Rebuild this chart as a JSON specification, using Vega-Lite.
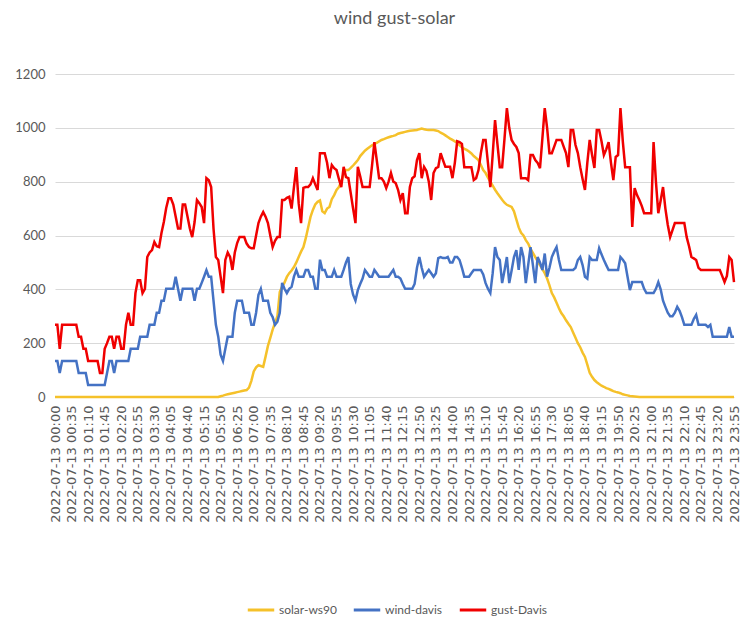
{
"$schema": "https://vega.github.io/schema/vega-lite/v6.json",
"width": 679, "height": 323,
"autosize": {"type": "none"},
"padding": {"left": 55, "top": 74, "right": 8, "bottom": 242},
"background": "white",
"title": {"text": "wind gust-solar", "font": "Lato", "fontSize": 18, "fontWeight": "normal", "color": "#595959", "offset": 40, "anchor": "middle"},
"data": {"values": [
{"t":"00:00","s":0,"w":134,"g":268},{"t":"00:05","s":0,"w":134,"g":268},{"t":"00:10","s":0,"w":89,"g":179},{"t":"00:15","s":0,"w":134,"g":268},{"t":"00:20","s":0,"w":134,"g":268},{"t":"00:25","s":0,"w":134,"g":268},{"t":"00:30","s":0,"w":134,"g":268},{"t":"00:35","s":0,"w":134,"g":268},{"t":"00:40","s":0,"w":134,"g":268},{"t":"00:45","s":0,"w":134,"g":268},{"t":"00:50","s":0,"w":89,"g":224},{"t":"00:55","s":0,"w":89,"g":224},
{"t":"01:00","s":0,"w":89,"g":179},{"t":"01:05","s":0,"w":89,"g":179},{"t":"01:10","s":0,"w":45,"g":134},{"t":"01:15","s":0,"w":45,"g":134},{"t":"01:20","s":0,"w":45,"g":134},{"t":"01:25","s":0,"w":45,"g":134},{"t":"01:30","s":0,"w":45,"g":134},{"t":"01:35","s":0,"w":45,"g":89},{"t":"01:40","s":0,"w":45,"g":89},{"t":"01:45","s":0,"w":45,"g":179},{"t":"01:50","s":0,"w":89,"g":200},{"t":"01:55","s":0,"w":134,"g":224},
{"t":"02:00","s":0,"w":134,"g":224},{"t":"02:05","s":0,"w":89,"g":179},{"t":"02:10","s":0,"w":134,"g":224},{"t":"02:15","s":0,"w":134,"g":224},{"t":"02:20","s":0,"w":134,"g":179},{"t":"02:25","s":0,"w":134,"g":179},{"t":"02:30","s":0,"w":134,"g":268},{"t":"02:35","s":0,"w":134,"g":313},{"t":"02:40","s":0,"w":179,"g":268},{"t":"02:45","s":0,"w":179,"g":268},{"t":"02:50","s":0,"w":179,"g":386},{"t":"02:55","s":0,"w":179,"g":434},
{"t":"03:00","s":0,"w":224,"g":434},{"t":"03:05","s":0,"w":224,"g":386},{"t":"03:10","s":0,"w":224,"g":402},{"t":"03:15","s":0,"w":224,"g":520},{"t":"03:20","s":0,"w":268,"g":537},{"t":"03:25","s":0,"w":268,"g":546},{"t":"03:30","s":0,"w":268,"g":576},{"t":"03:35","s":0,"w":313,"g":560},{"t":"03:40","s":0,"w":313,"g":557},{"t":"03:45","s":0,"w":358,"g":609},{"t":"03:50","s":0,"w":358,"g":650},{"t":"03:55","s":0,"w":402,"g":702},
{"t":"04:00","s":0,"w":402,"g":738},{"t":"04:05","s":0,"w":402,"g":738},{"t":"04:10","s":0,"w":402,"g":715},{"t":"04:15","s":0,"w":447,"g":671},{"t":"04:20","s":0,"w":402,"g":626},{"t":"04:25","s":0,"w":358,"g":626},{"t":"04:30","s":0,"w":402,"g":715},{"t":"04:35","s":0,"w":402,"g":715},{"t":"04:40","s":0,"w":402,"g":671},{"t":"04:45","s":0,"w":402,"g":626},{"t":"04:50","s":0,"w":402,"g":594},{"t":"04:55","s":0,"w":358,"g":650},
{"t":"05:00","s":0,"w":402,"g":732},{"t":"05:05","s":0,"w":402,"g":720},{"t":"05:10","s":0,"w":424,"g":706},{"t":"05:15","s":0,"w":447,"g":646},{"t":"05:20","s":0,"w":471,"g":813},{"t":"05:25","s":0,"w":447,"g":805},{"t":"05:30","s":0,"w":447,"g":780},{"t":"05:35","s":0,"w":358,"g":626},{"t":"05:40","s":0,"w":268,"g":520},{"t":"05:45","s":0,"w":224,"g":509},{"t":"05:50","s":3,"w":157,"g":447},{"t":"05:55","s":5,"w":134,"g":386},
{"t":"06:00","s":8,"w":179,"g":509},{"t":"06:05","s":10,"w":224,"g":537},{"t":"06:10","s":12,"w":224,"g":520},{"t":"06:15","s":14,"w":224,"g":472},{"t":"06:20","s":16,"w":313,"g":537},{"t":"06:25","s":18,"w":358,"g":572},{"t":"06:30","s":20,"w":358,"g":594},{"t":"06:35","s":22,"w":358,"g":594},{"t":"06:40","s":24,"w":313,"g":594},{"t":"06:45","s":26,"w":313,"g":570},{"t":"06:50","s":35,"w":313,"g":557},{"t":"06:55","s":60,"w":268,"g":553},
{"t":"07:00","s":95,"w":268,"g":553},{"t":"07:05","s":110,"w":313,"g":600},{"t":"07:10","s":118,"w":380,"g":646},{"t":"07:15","s":115,"w":402,"g":670},{"t":"07:20","s":112,"w":358,"g":687},{"t":"07:25","s":150,"w":358,"g":670},{"t":"07:30","s":190,"w":358,"g":646},{"t":"07:35","s":220,"w":313,"g":600},{"t":"07:40","s":250,"w":297,"g":557},{"t":"07:45","s":275,"w":268,"g":580},{"t":"07:50","s":300,"w":280,"g":594},{"t":"07:55","s":390,"w":313,"g":594},
{"t":"08:00","s":410,"w":424,"g":732},{"t":"08:05","s":425,"w":402,"g":732},{"t":"08:10","s":446,"w":386,"g":740},{"t":"08:15","s":460,"w":402,"g":744},{"t":"08:20","s":470,"w":409,"g":700},{"t":"08:25","s":483,"w":447,"g":780},{"t":"08:30","s":500,"w":472,"g":854},{"t":"08:35","s":520,"w":447,"g":720},{"t":"08:40","s":540,"w":447,"g":646},{"t":"08:45","s":557,"w":447,"g":777},{"t":"08:50","s":590,"w":472,"g":780},{"t":"08:55","s":630,"w":472,"g":780},
{"t":"09:00","s":669,"w":447,"g":790},{"t":"09:05","s":695,"w":447,"g":813},{"t":"09:10","s":715,"w":402,"g":790},{"t":"09:15","s":725,"w":402,"g":769},{"t":"09:20","s":730,"w":510,"g":906},{"t":"09:25","s":690,"w":472,"g":906},{"t":"09:30","s":683,"w":472,"g":906},{"t":"09:35","s":700,"w":447,"g":870},{"t":"09:40","s":706,"w":447,"g":813},{"t":"09:45","s":735,"w":447,"g":862},{"t":"09:50","s":750,"w":472,"g":850},{"t":"09:55","s":769,"w":447,"g":843},
{"t":"10:00","s":780,"w":447,"g":810},{"t":"10:05","s":800,"w":447,"g":780},{"t":"10:10","s":830,"w":472,"g":855},{"t":"10:15","s":843,"w":500,"g":817},{"t":"10:20","s":843,"w":520,"g":813},{"t":"10:25","s":851,"w":420,"g":757},{"t":"10:30","s":860,"w":380,"g":700},{"t":"10:35","s":870,"w":358,"g":646},{"t":"10:40","s":880,"w":397,"g":855},{"t":"10:45","s":895,"w":420,"g":820},{"t":"10:50","s":905,"w":440,"g":780},{"t":"10:55","s":915,"w":472,"g":780},
{"t":"11:00","s":922,"w":460,"g":780},{"t":"11:05","s":929,"w":447,"g":780},{"t":"11:10","s":935,"w":447,"g":860},{"t":"11:15","s":940,"w":472,"g":947},{"t":"11:20","s":944,"w":460,"g":880},{"t":"11:25","s":950,"w":447,"g":813},{"t":"11:30","s":955,"w":447,"g":813},{"t":"11:35","s":958,"w":447,"g":800},{"t":"11:40","s":962,"w":447,"g":776},{"t":"11:45","s":965,"w":447,"g":800},{"t":"11:50","s":968,"w":460,"g":832},{"t":"11:55","s":970,"w":472,"g":800},
{"t":"12:00","s":973,"w":447,"g":795},{"t":"12:05","s":978,"w":447,"g":770},{"t":"12:10","s":981,"w":440,"g":732},{"t":"12:15","s":983,"w":420,"g":757},{"t":"12:20","s":985,"w":402,"g":683},{"t":"12:25","s":987,"w":402,"g":683},{"t":"12:30","s":989,"w":402,"g":780},{"t":"12:35","s":990,"w":402,"g":813},{"t":"12:40","s":991,"w":420,"g":820},{"t":"12:45","s":992,"w":480,"g":880},{"t":"12:50","s":995,"w":520,"g":906},{"t":"12:55","s":997,"w":480,"g":813},
{"t":"13:00","s":995,"w":447,"g":855},{"t":"13:05","s":993,"w":460,"g":840},{"t":"13:10","s":992,"w":472,"g":800},{"t":"13:15","s":992,"w":460,"g":732},{"t":"13:20","s":992,"w":447,"g":832},{"t":"13:25","s":990,"w":460,"g":850},{"t":"13:30","s":988,"w":516,"g":855},{"t":"13:35","s":982,"w":520,"g":906},{"t":"13:40","s":978,"w":516,"g":880},{"t":"13:45","s":972,"w":516,"g":855},{"t":"13:50","s":966,"w":520,"g":855},{"t":"13:55","s":960,"w":500,"g":855},
{"t":"14:00","s":955,"w":500,"g":813},{"t":"14:05","s":950,"w":520,"g":870},{"t":"14:10","s":945,"w":520,"g":950},{"t":"14:15","s":935,"w":509,"g":947},{"t":"14:20","s":928,"w":480,"g":940},{"t":"14:25","s":922,"w":447,"g":854},{"t":"14:30","s":918,"w":447,"g":854},{"t":"14:35","s":912,"w":447,"g":854},{"t":"14:40","s":905,"w":460,"g":854},{"t":"14:45","s":895,"w":472,"g":806},{"t":"14:50","s":888,"w":472,"g":813},{"t":"14:55","s":880,"w":472,"g":843},
{"t":"15:00","s":862,"w":472,"g":906},{"t":"15:05","s":843,"w":455,"g":955},{"t":"15:10","s":832,"w":423,"g":955},{"t":"15:15","s":815,"w":402,"g":870},{"t":"15:20","s":800,"w":386,"g":780},{"t":"15:25","s":785,"w":460,"g":900},{"t":"15:30","s":770,"w":557,"g":1029},{"t":"15:35","s":757,"w":520,"g":940},{"t":"15:40","s":745,"w":509,"g":854},{"t":"15:45","s":733,"w":423,"g":854},{"t":"15:50","s":722,"w":470,"g":960},{"t":"15:55","s":714,"w":520,"g":1073},
{"t":"16:00","s":710,"w":423,"g":1000},{"t":"16:05","s":706,"w":470,"g":955},{"t":"16:10","s":690,"w":520,"g":940},{"t":"16:15","s":660,"w":546,"g":929},{"t":"16:20","s":630,"w":472,"g":906},{"t":"16:25","s":610,"w":557,"g":813},{"t":"16:30","s":600,"w":520,"g":813},{"t":"16:35","s":583,"w":423,"g":813},{"t":"16:40","s":570,"w":490,"g":806},{"t":"16:45","s":550,"w":557,"g":899},{"t":"16:50","s":535,"w":490,"g":899},{"t":"16:55","s":520,"w":423,"g":880},
{"t":"17:00","s":505,"w":520,"g":870},{"t":"17:05","s":490,"w":500,"g":850},{"t":"17:10","s":475,"w":472,"g":960},{"t":"17:15","s":460,"w":533,"g":1073},{"t":"17:20","s":440,"w":447,"g":1000},{"t":"17:25","s":415,"w":480,"g":906},{"t":"17:30","s":386,"w":520,"g":906},{"t":"17:35","s":370,"w":540,"g":930},{"t":"17:40","s":350,"w":557,"g":955},{"t":"17:45","s":330,"w":509,"g":955},{"t":"17:50","s":312,"w":472,"g":955},{"t":"17:55","s":300,"w":472,"g":930},
{"t":"18:00","s":285,"w":472,"g":906},{"t":"18:05","s":272,"w":472,"g":854},{"t":"18:10","s":260,"w":472,"g":992},{"t":"18:15","s":240,"w":472,"g":992},{"t":"18:20","s":220,"w":480,"g":936},{"t":"18:25","s":200,"w":509,"g":906},{"t":"18:30","s":185,"w":520,"g":854},{"t":"18:35","s":165,"w":490,"g":810},{"t":"18:40","s":149,"w":447,"g":769},{"t":"18:45","s":120,"w":440,"g":870},{"t":"18:50","s":90,"w":520,"g":955},{"t":"18:55","s":75,"w":509,"g":900},
{"t":"19:00","s":63,"w":509,"g":851},{"t":"19:05","s":55,"w":509,"g":992},{"t":"19:10","s":48,"w":553,"g":992},{"t":"19:15","s":42,"w":530,"g":950},{"t":"19:20","s":38,"w":509,"g":899},{"t":"19:25","s":33,"w":490,"g":920},{"t":"19:30","s":30,"w":472,"g":947},{"t":"19:35","s":26,"w":472,"g":870},{"t":"19:40","s":22,"w":472,"g":806},{"t":"19:45","s":19,"w":472,"g":892},{"t":"19:50","s":17,"w":472,"g":899},{"t":"19:55","s":14,"w":520,"g":1073},
{"t":"20:00","s":10,"w":510,"g":950},{"t":"20:05","s":8,"w":497,"g":854},{"t":"20:10","s":6,"w":447,"g":854},{"t":"20:15","s":4,"w":397,"g":854},{"t":"20:20","s":3,"w":427,"g":632},{"t":"20:25","s":2,"w":427,"g":776},{"t":"20:30","s":1,"w":427,"g":750},{"t":"20:35","s":0,"w":427,"g":732},{"t":"20:40","s":0,"w":427,"g":710},{"t":"20:45","s":0,"w":402,"g":683},{"t":"20:50","s":0,"w":386,"g":683},{"t":"20:55","s":0,"w":386,"g":683},
{"t":"21:00","s":0,"w":386,"g":683},{"t":"21:05","s":0,"w":386,"g":947},{"t":"21:10","s":0,"w":402,"g":800},{"t":"21:15","s":0,"w":427,"g":683},{"t":"21:20","s":0,"w":400,"g":730},{"t":"21:25","s":0,"w":358,"g":780},{"t":"21:30","s":0,"w":335,"g":700},{"t":"21:35","s":0,"w":313,"g":640},{"t":"21:40","s":0,"w":300,"g":594},{"t":"21:45","s":0,"w":300,"g":620},{"t":"21:50","s":0,"w":313,"g":646},{"t":"21:55","s":0,"w":335,"g":646},
{"t":"22:00","s":0,"w":320,"g":646},{"t":"22:05","s":0,"w":297,"g":646},{"t":"22:10","s":0,"w":268,"g":646},{"t":"22:15","s":0,"w":268,"g":594},{"t":"22:20","s":0,"w":268,"g":560},{"t":"22:25","s":0,"w":268,"g":520},{"t":"22:30","s":0,"w":290,"g":515},{"t":"22:35","s":0,"w":305,"g":509},{"t":"22:40","s":0,"w":268,"g":480},{"t":"22:45","s":0,"w":268,"g":472},{"t":"22:50","s":0,"w":268,"g":472},{"t":"22:55","s":0,"w":268,"g":472},
{"t":"23:00","s":0,"w":260,"g":472},{"t":"23:05","s":0,"w":268,"g":472},{"t":"23:10","s":0,"w":224,"g":472},{"t":"23:15","s":0,"w":224,"g":472},{"t":"23:20","s":0,"w":224,"g":472},{"t":"23:25","s":0,"w":224,"g":472},{"t":"23:30","s":0,"w":224,"g":450},{"t":"23:35","s":0,"w":224,"g":427},{"t":"23:40","s":0,"w":224,"g":450},{"t":"23:45","s":0,"w":260,"g":520},{"t":"23:50","s":0,"w":224,"g":509},{"t":"23:55","s":0,"w":224,"g":427}
]},
"transform": [{"fold": ["s", "w", "g"], "as": ["series", "value"]}],
"mark": {"type": "line", "strokeWidth": 2.5},
"encoding": {
  "x": {"field": "t", "type": "ordinal", "sort": null,
        "scale": {"type": "point", "padding": 0},
        "axis": {"values": ["00:00","00:35","01:10","01:45","02:20","02:55","03:30","04:05","04:40","05:15","05:50","06:25","07:00","07:35","08:10","08:45","09:20","09:55","10:30","11:05","11:40","12:15","12:50","13:25","14:00","14:35","15:10","15:45","16:20","16:55","17:30","18:05","18:40","19:15","19:50","20:25","21:00","21:35","22:10","22:45","23:20","23:55"],
                 "labelExpr": "'2022-07-13 ' + datum.label",
                 "labelAngle": 270, "title": null, "grid": false, "ticks": false, "domain": false,
                 "labelFont": "DejaVu Sans", "labelFontSize": 13, "labelColor": "#595959",
                 "labelPadding": 8, "labelOverlap": false, "labelBound": false}},
  "y": {"field": "value", "type": "quantitative",
        "scale": {"domain": [0, 1200]},
        "axis": {"values": [0, 200, 400, 600, 800, 1000, 1200], "format": "d", "title": null, "grid": true, "gridColor": "#D9D9D9", "gridWidth": 1,
                 "domain": false, "ticks": false, "labelFont": "Lato", "labelFontSize": 13, "labelColor": "#595959", "labelPadding": 10}},
  "color": {"field": "series", "type": "nominal",
            "scale": {"domain": ["s", "w", "g"], "range": ["#F5C12A", "#4472C4", "#F00000"]},
            "legend": {"title": null, "orient": "none", "legendX": 191, "legendY": 521, "direction": "horizontal",
                       "symbolType": "stroke", "symbolSize": 700, "symbolStrokeWidth": 3,
                       "labelFont": "Lato", "labelFontSize": 12, "labelColor": "#595959", "columnPadding": 10, "labelOffset": 3,
                       "labelExpr": "datum.label == 's' ? 'solar-ws90' : datum.label == 'w' ? 'wind-davis' : 'gust-Davis'"}}
},
"config": {"view": {"stroke": null}}
}
